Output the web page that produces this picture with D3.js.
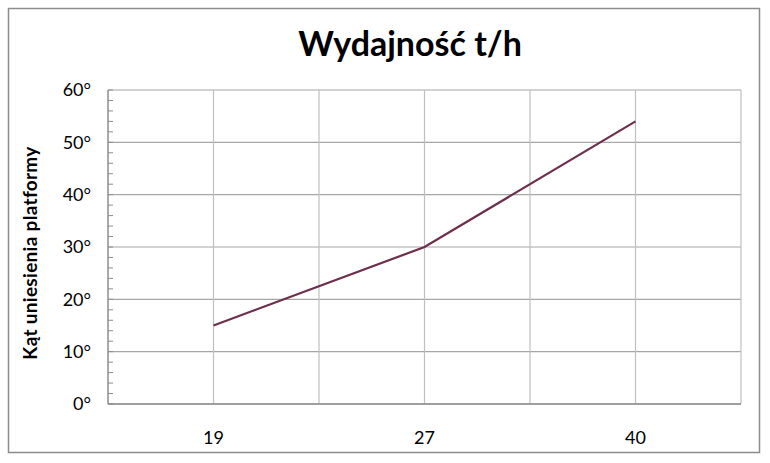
<!DOCTYPE html>
<html>
<head>
<meta charset="utf-8">
<script src="https://cdn.jsdelivr.net/npm/d3@7"></script>
<style>
  body { margin: 0; background: #fff; }
  text { font-family: Lato, "Open Sans", sans-serif; fill: #000; }
</style>
</head>
<body>
<div id="chart"></div>
<script>
// chart data
var categories = ["19", "27", "40"];
var angles = [15, 30, 54];
var yTicks = [0, 10, 20, 30, 40, 50, 60];
var title = "Wydajność t/h";
var yTitle = "Kąt uniesienia platformy";

var width = 770, height = 463;
var margin = { top: 90, right: 29, bottom: 59, left: 108 };

var svg = d3.select("#chart")
  .append("svg")
    .attr("width", width)
    .attr("height", height);

// outer chart border
svg.append("rect")
  .attr("x", 8.5).attr("y", 8.5)
  .attr("width", 751).attr("height", 444)
  .attr("fill", "#fff")
  .attr("stroke", "#8c8c8c")
  .attr("stroke-width", 1.5);

var plotW = width - margin.left - margin.right,
    plotH = height - margin.top - margin.bottom;

var g = svg.append("g")
  .attr("transform", "translate(" + margin.left + "," + margin.top + ")");

var x = d3.scaleBand()
  .domain(categories)
  .range([0, plotW]);

var y = d3.scaleLinear()
  .domain([0, 60])
  .range([plotH, 0]);

// horizontal gridlines
g.append("g").selectAll("line")
  .data(yTicks)
  .enter().append("line")
    .attr("x1", 0).attr("x2", plotW)
    .attr("y1", function(d) { return y(d); })
    .attr("y2", function(d) { return y(d); })
    .attr("stroke", "#a6a6a6")
    .attr("stroke-width", 1.2);

// vertical gridlines at band edges and centers
var vLines = [];
categories.forEach(function(c) {
  vLines.push(x(c) + x.bandwidth() / 2);
  vLines.push(x(c) + x.bandwidth());
});
g.append("g").selectAll("line")
  .data(vLines)
  .enter().append("line")
    .attr("x1", function(d) { return d; })
    .attr("x2", function(d) { return d; })
    .attr("y1", 0).attr("y2", plotH)
    .attr("stroke", "#bfbfbf")
    .attr("stroke-width", 1.2);

// y axis with minor ticks inside
var minor = d3.range(0, 61, 2);
g.append("g").selectAll("line")
  .data(minor)
  .enter().append("line")
    .attr("x1", 0).attr("x2", 5)
    .attr("y1", function(d) { return y(d); })
    .attr("y2", function(d) { return y(d); })
    .attr("stroke", "#8c8c8c");

g.append("line")
  .attr("x1", 0).attr("x2", 0)
  .attr("y1", 0).attr("y2", plotH)
  .attr("stroke", "#8c8c8c")
  .attr("stroke-width", 1.5);

g.append("line")
  .attr("x1", 0).attr("x2", plotW)
  .attr("y1", plotH).attr("y2", plotH)
  .attr("stroke", "#8c8c8c")
  .attr("stroke-width", 1.5);

// y tick labels
g.append("g").selectAll("text")
  .data(yTicks)
  .enter().append("text")
    .attr("x", -17)
    .attr("y", function(d) { return y(d); })
    .attr("dy", "0.36em")
    .attr("text-anchor", "end")
    .style("font-size", "18px")
    .text(function(d) { return d + "°"; });

// x tick labels
g.append("g").selectAll("text")
  .data(categories)
  .enter().append("text")
    .attr("x", function(d) { return x(d) + x.bandwidth() / 2; })
    .attr("y", plotH + 40)
    .attr("text-anchor", "middle")
    .style("font-size", "18px")
    .text(function(d) { return d; });

// the line
var line = d3.line()
  .x(function(d, i) { return x(categories[i]) + x.bandwidth() / 2; })
  .y(function(d) { return y(d); });

g.append("path")
  .datum(angles)
  .attr("d", line)
  .attr("fill", "none")
  .attr("stroke", "#6e2f4c")
  .attr("stroke-width", 2.2);

// titles
svg.append("text")
  .attr("x", 410)
  .attr("y", 56)
  .attr("text-anchor", "middle")
  .style("font-size", "34px")
  .style("font-weight", "bold")
  .text(title);

svg.append("text")
  .attr("transform", "translate(37,253) rotate(-90)")
  .attr("text-anchor", "middle")
  .style("font-size", "19px")
  .style("font-weight", "bold")
  .style("letter-spacing", "0.3px")
  .text(yTitle);
</script>
</body>
</html>
